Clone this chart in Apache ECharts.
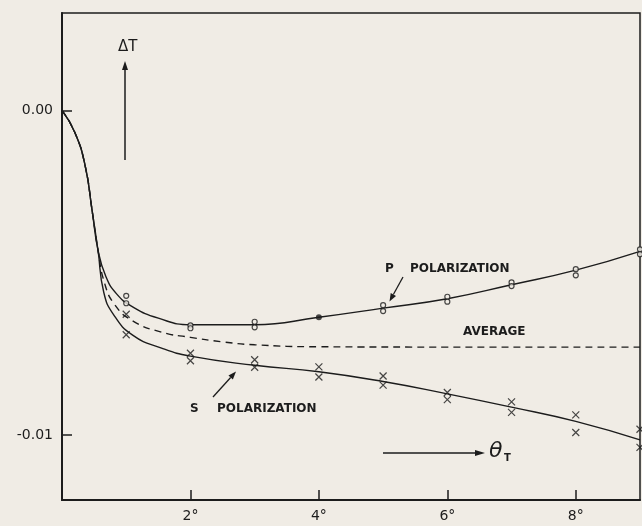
<!DOCTYPE html>
<html>
<head>
<meta charset="utf-8">
<script src="https://cdn.jsdelivr.net/npm/echarts@6/dist/echarts.min.js"></script>
<style>
html,body{margin:0;padding:0;background:#f0ece5;}
#chart{width:642px;height:526px;}
</style>
</head>
<body>
<div id="chart"></div>
<script>
// ---- data (x in degrees, ΔT) ----
var xTickValues = [2, 4, 6, 8];
var xTickLabels = ['2°', '4°', '6°', '8°'];
var yTickValues = [0, -0.01];
var yTickLabels = ['0.00', '-0.01'];

var curveP = [[0,0],[0.2,-0.00068],[0.36,-0.0017],[0.47,-0.0031],[0.56,-0.0043],
  [0.68,-0.0051],[0.85,-0.00565],[1.1,-0.00605],[1.5,-0.00640],[2,-0.00660],[3,-0.00660],[4,-0.00637],[5,-0.00609],[6,-0.00580],[7,-0.00537],[8,-0.00492],[9,-0.00434]];
var curveS = [[0,0],[0.2,-0.00068],[0.36,-0.0017],[0.47,-0.0031],[0.56,-0.0043],
  [0.65,-0.0056],[0.8,-0.00628],[1.1,-0.00692],[1.55,-0.00732],[2,-0.00757],[3,-0.00785],[4,-0.00805],[5,-0.00835],[6,-0.00873],[7,-0.00914],[8,-0.00958],[9,-0.01015]];
var curveAvg = [[0,0],[0.2,-0.00068],[0.36,-0.0017],[0.47,-0.0031],[0.56,-0.0043],
  [0.66,-0.0053],[0.82,-0.00598],[1.1,-0.00648],[1.55,-0.00683],[2,-0.00699],[2.5,-0.00713],[3,-0.00722],[4,-0.00728],[6,-0.00729],[9,-0.00729]];

var pointsP = [[1,-0.00571],[1,-0.00594],[2,-0.00662],[2,-0.00671],[3,-0.00651],[3,-0.00668],
  [5,-0.0060],[5,-0.00618],[6,-0.00574],[6,-0.00589],[7,-0.0053],[7,-0.00541],[8,-0.00489],[8,-0.00508],[9,-0.00428],[9,-0.00443]];
var pointsPFilled = [[4,-0.00637]];
var pointsS = [[1,-0.00628],[1,-0.00691],[2,-0.00748],[2,-0.00771],[3,-0.00768],[3,-0.00791],[4,-0.0079],[4,-0.00821],
  [5,-0.00818],[5,-0.00846],[6,-0.00869],[6,-0.00891],[7,-0.00898],[7,-0.0093],[8,-0.00938],[8,-0.00992],[9,-0.00982],[9,-0.01038]];

// ---- drawing ----
var INK = '#1c1c1c';
var FONT = 'DejaVu Sans';
var chart = echarts.init(document.getElementById('chart'), null, {renderer: 'canvas'});

function arrow(x1, y1, x2, y2, w, len) {
  var dx = x2 - x1, dy = y2 - y1, d = Math.sqrt(dx*dx + dy*dy);
  var ux = dx / d, uy = dy / d, px = -uy, py = ux;
  var bx = x2 - ux * len, by = y2 - uy * len;
  return [
    {type: 'line', shape: {x1: x1, y1: y1, x2: bx, y2: by}, style: {stroke: INK, lineWidth: w}, z: 10},
    {type: 'polygon', shape: {points: [[x2, y2], [bx + px * 3, by + py * 3], [bx - px * 3, by - py * 3]]}, style: {fill: INK}, z: 10}
  ];
}
function label(text, x, y, font) {
  return {type: 'text', x: x, y: y, z: 10, style: {text: text, font: font, fill: INK, align: 'left', verticalAlign: 'middle'}};
}
var lblFont = 'bold 12px ' + FONT;
var graphics = [].concat(
  [label('ΔT', 118, 47, '15px ' + FONT)],
  arrow(125, 160, 125, 61, 1.5, 9),
  [label('P', 385, 269, lblFont), label('POLARIZATION', 410, 269, lblFont)],
  arrow(403, 277, 389.5, 301.5, 1.3, 8),
  [label('AVERAGE', 463, 332, lblFont)],
  [label('S', 190, 409, lblFont), label('POLARIZATION', 217, 409, lblFont)],
  arrow(213, 397, 236, 371.5, 1.3, 8),
  arrow(383, 453, 485, 453, 1.6, 10),
  [label('θ', 489, 451, 'italic 22px ' + FONT), label('T', 504, 458, 'bold 10px ' + FONT)]
);

var lineStyle = {color: INK, width: 1.4};
var option = {
  backgroundColor: '#f0ece5',
  animation: false,
  grid: {left: 62, right: 2, top: 13, bottom: 26, show: true, borderColor: INK, borderWidth: 1.5, backgroundColor: 'transparent'},
  xAxis: {
    type: 'value', min: 0, max: 9,
    axisLine: {show: true, onZero: false, lineStyle: {color: INK, width: 2}},
    axisTick: {show: true, inside: true, length: 10, customValues: xTickValues, lineStyle: {color: INK, width: 1.5}},
    axisLabel: {show: true, customValues: xTickValues, margin: 9, color: INK, fontFamily: FONT, fontSize: 14,
      formatter: function (v) { return xTickLabels[xTickValues.indexOf(v)]; }},
    splitLine: {show: false}
  },
  yAxis: {
    type: 'value', min: -0.012, max: 0.003,
    axisLine: {show: true, onZero: false, lineStyle: {color: INK, width: 2}},
    axisTick: {show: true, inside: true, length: 10, customValues: yTickValues, lineStyle: {color: INK, width: 1.5}},
    axisLabel: {show: true, customValues: yTickValues, margin: 9, color: INK, fontFamily: FONT, fontSize: 14,
      formatter: function (v) { var i = yTickValues.indexOf(v); return i >= 0 ? yTickLabels[i] : ''; }},
    splitLine: {show: false}
  },
  graphic: graphics,
  series: [
    {type: 'line', data: curveP, smooth: 0.5, showSymbol: false, lineStyle: lineStyle, z: 2},
    {type: 'line', data: curveS, smooth: 0.5, showSymbol: false, lineStyle: lineStyle, z: 2},
    {type: 'line', data: curveAvg, smooth: 0.5, showSymbol: false, lineStyle: {color: INK, width: 1.4, type: [7, 5]}, z: 2},
    {type: 'scatter', data: pointsP, symbol: 'circle', symbolSize: 5, itemStyle: {color: '#f0ece5', borderColor: INK, borderWidth: 1.2}, z: 3},
    {type: 'scatter', data: pointsPFilled, symbol: 'circle', symbolSize: 6, itemStyle: {color: INK}, z: 3},
    {type: 'scatter', data: pointsS, symbol: 'path://M0,0L10,10M10,0L0,10', symbolSize: 7, itemStyle: {color: 'none', borderColor: INK, borderWidth: 1.2}, z: 3}
  ]
};
chart.setOption(option);
</script>
</body>
</html>
